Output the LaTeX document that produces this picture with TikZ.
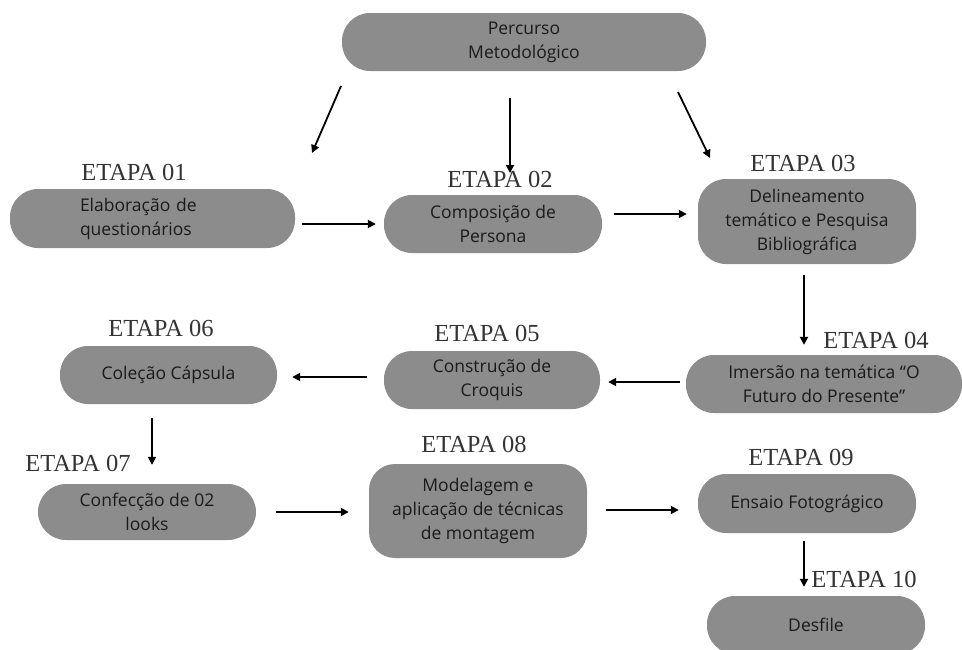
\documentclass[tikz,border=0pt]{standalone}
\usepackage{fontspec}
\setmainfont{Open Sans}
\newfontfamily\etapafont{Liberation Serif}
\usetikzlibrary{arrows.meta,calc}
\definecolor{boxgray}{HTML}{8C8C8C}
\definecolor{boxtext}{HTML}{1A1A1A}
\definecolor{labtext}{HTML}{333333}
\begin{document}
\begin{tikzpicture}[x=1pt,y=-1pt,
  box/.style={fill=boxgray, rounded corners=28pt, inner sep=0pt, align=center,
    text=boxtext, font=\fontsize{17.5}{24}\selectfont, minimum height=58pt, minimum width=218pt},
  lab/.style={inner sep=0pt, text=labtext, font=\etapafont\fontsize{24.5}{26}\selectfont},
  arr/.style={line width=1.8pt, -{Triangle[length=8pt,width=8pt]}}]
\useasboundingbox (0,0) rectangle (962,649);
\clip (0,0) rectangle (962,649);
% boxes
\node[box, minimum width=364pt] (top) at (524,42) {Percurso\\Metodológico};
\node[box, minimum width=285pt, minimum height=59pt, text width=145pt, align=left] (b1) at (152.5,218.5) {Elaboração de\\questionários};
\node[box] (b2) at (493,224) {Composição de\\Persona};
\node[box, minimum height=85pt] (b3) at (807,221.5) {Delineamento\\temático e Pesquisa\\Bibliográfica};
\node[box, minimum width=276pt] (b4) at (824,384) {Imersão na temática “O\\Futuro do Presente”};
\node[box, minimum width=216pt] (b5) at (492,380) {Construção de\\Croquis};
\node[box, minimum width=217pt] (b6) at (168.5,375) {Coleção Cápsula};
\node[box, minimum height=56pt] (b7) at (147,512) {Confecção de 02\\looks};
\node[box, minimum height=94pt, rounded corners=26pt] (b8) at (478,511) {Modelagem e\\aplicação de técnicas\\de montagem};
\node[box, minimum height=59pt] (b9) at (807,503.5) {Ensaio Fotográgico};
\node[box] (b10) at (816,625) {Desfile};
% labels
\node[lab] (l1) at (134,172) {ETAPA 01};
\node[lab] (l2) at (500,179) {ETAPA 02};
\node[lab] (l3) at (803,163) {ETAPA 03};
\node[lab] (l4) at (876,340) {ETAPA 04};
\node[lab] (l5) at (487,333) {ETAPA 05};
\node[lab] (l6) at (161,328) {ETAPA 06};
\node[lab] (l7) at (78,463) {ETAPA 07};
\node[lab] (l8) at (474,444) {ETAPA 08};
\node[lab] (l9) at (801,457) {ETAPA 09};
\node[lab] (l10) at (864,579) {ETAPA 10};
% arrows from top
\coordinate (t1s) at (341,86);  \coordinate (t1e) at (312,153);
\coordinate (t2s) at (510,98);  \coordinate (t2e) at (510,173);
\coordinate (t3s) at (678,92);  \coordinate (t3e) at (710,158);
\draw[arr] (t1s) -- (t1e);
\draw[arr] (t2s) -- (t2e);
\draw[arr] (t3s) -- (t3e);
% flow arrows
\draw[arr] ([xshift=7pt]b1.east |- 0,224) -- ([xshift=-8pt]b2.west |- 0,224);
\draw[arr] ([xshift=12pt]b2.east |- 0,214) -- ([xshift=-11pt]b3.west |- 0,214);
\draw[arr] ([yshift=-11pt]b3.south -| 804,0) -- ([yshift=10pt]b4.north -| 804,0);
\draw[arr] ([xshift=-6pt]b4.west |- 0,382) -- ([xshift=8pt]b5.east |- 0,382);
\draw[arr] ([xshift=-17pt]b5.west |- 0,377) -- ([xshift=15pt]b6.east |- 0,377);
\draw[arr] ([yshift=-14pt]b6.south -| 152,0) -- ([yshift=19pt]b7.north -| 152,0);
\draw[arr] ([xshift=20pt]b7.east |- 0,512) -- ([xshift=-20pt]b8.west |- 0,512);
\draw[arr] ([xshift=19pt]b8.east |- 0,510) -- ([xshift=-19pt]b9.west |- 0,510);
\draw[arr] ([yshift=-8pt]b9.south -| 804,0) -- ([yshift=9pt]b10.north -| 804,0);
\end{tikzpicture}
\end{document}
